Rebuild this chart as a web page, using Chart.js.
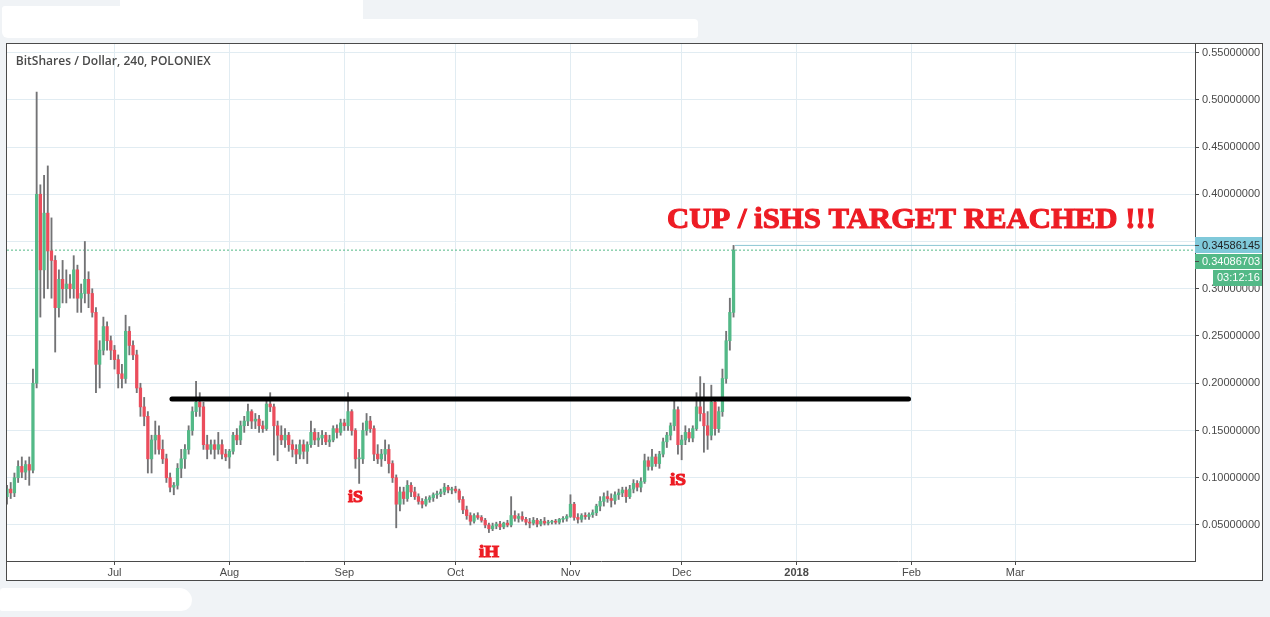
<!DOCTYPE html>
<html>
<head>
<meta charset="utf-8">
<script src="https://cdn.jsdelivr.net/npm/chart.js@4.4.0/dist/chart.umd.min.js"></script>
<style>
  html, body { margin: 0; padding: 0; }
  body { background: #f0f3f6; width: 1270px; height: 617px; overflow: hidden; position: relative; }
  .blob { position: absolute; background: #fff; }
  #frame { position: absolute; left: 6px; top: 43px; width: 1255px; height: 536px; border: 1px solid #4a4a4a; background: #fff; }
  canvas { display: block; }
</style>
</head>
<body>
<div class="blob" style="left:2px;top:6px;width:361px;height:32px;border-radius:3px 0 2px 6px"></div>
<div class="blob" style="left:120px;top:0px;width:243px;height:10px"></div>
<div class="blob" style="left:340px;top:19px;width:358px;height:19px;border-radius:6px 4px 3px 2px"></div>
<div class="blob" style="left:0px;top:588px;width:192px;height:23px;border-radius:4px 14px 12px 2px"></div>
<div id="frame"><canvas id="chart" width="1255" height="536"></canvas></div>
<script>
// days are counted from Jul 1 2017; first candle is Jun 2
const firstDay = -29;

const opens = [
  .080,.088,.084,.100,.112,.106,.114,.108,.200,.400,
  .320,.380,.340,.330,.280,.310,.300,.305,.300,.320,
  .290,.295,.310,.295,.275,.220,.235,.260,.245,.235,
  .225,.210,.205,.255,.240,.230,.195,.175,.165,.120,
  .140,.145,.130,.120,.100,.090,.092,.110,.120,.130,
  .150,.170,.180,.175,.135,.130,.135,.130,.135,.125,
  .122,.128,.145,.140,.155,.160,.170,.160,.162,.155,
  .152,.178,.175,.155,.145,.140,.145,.135,.130,.125,
  .135,.128,.135,.148,.140,.142,.145,.138,.140,.152,
  .148,.158,.155,.170,.150,.120,.120,.150,.160,.152,
  .125,.120,.125,.130,.115,.100,.072,.085,.078,.092,
  .085,.080,.075,.072,.077,.079,.082,.083,.085,.090,
  .087,.088,.086,.077,.066,.060,.054,.060,.058,.055,
  .050,.046,.049,.051,.048,.052,.050,.060,.057,.059,
  .056,.053,.052,.055,.051,.054,.052,.053,.054,.053,
  .056,.057,.059,.072,.058,.056,.060,.059,.061,.063,
  .070,.075,.080,.078,.076,.082,.084,.087,.080,.088,
  .094,.090,.096,.118,.112,.122,.115,.125,.138,.145,
  .155,.172,.135,.140,.148,.142,.152,.175,.168,.155,
  .145,.180,.152,.170,.205,.245,.275
];
const highs = [
  .092,.095,.105,.118,.122,.118,.122,.215,.508,.410,
  .420,.430,.375,.335,.320,.330,.320,.315,.335,.325,
  .305,.350,.318,.300,.280,.245,.270,.265,.250,.240,
  .230,.220,.272,.260,.245,.235,.200,.185,.170,.145,
  .160,.155,.140,.125,.105,.095,.115,.130,.135,.155,
  .175,.202,.190,.180,.145,.140,.140,.148,.140,.130,
  .130,.148,.152,.160,.165,.178,.172,.168,.166,.160,
  .185,.190,.178,.160,.155,.152,.148,.140,.135,.140,
  .140,.138,.160,.152,.148,.150,.148,.145,.155,.156,
  .162,.162,.190,.172,.152,.130,.158,.168,.165,.155,
  .135,.130,.140,.135,.118,.103,.090,.090,.097,.095,
  .090,.083,.078,.080,.081,.084,.086,.088,.094,.092,
  .090,.091,.088,.080,.070,.063,.062,.063,.060,.057,
  .052,.052,.053,.054,.053,.055,.080,.065,.062,.064,
  .058,.057,.058,.057,.056,.058,.055,.055,.056,.057,
  .059,.061,.082,.074,.062,.062,.063,.063,.066,.072,
  .080,.084,.086,.083,.085,.088,.090,.090,.092,.098,
  .097,.100,.125,.122,.130,.125,.128,.142,.148,.158,
  .183,.175,.145,.155,.152,.155,.190,.207,.200,.170,
  .198,.185,.175,.215,.255,.290,.3459
];
const lows = [
  .072,.078,.080,.095,.100,.098,.092,.105,.195,.270,
  .290,.300,.290,.233,.270,.285,.285,.290,.290,.275,
  .275,.285,.280,.270,.190,.195,.230,.235,.225,.215,
  .195,.195,.200,.230,.225,.190,.165,.155,.105,.105,
  .125,.125,.115,.095,.085,.082,.088,.100,.110,.125,
  .145,.165,.165,.130,.120,.125,.120,.125,.120,.118,
  .110,.125,.135,.135,.148,.155,.152,.152,.148,.148,
  .150,.170,.124,.118,.135,.132,.128,.122,.115,.120,
  .120,.115,.132,.135,.133,.135,.135,.133,.138,.142,
  .145,.150,.150,.145,.110,.094,.115,.145,.148,.118,
  .115,.112,.118,.105,.095,.047,.065,.072,.075,.080,
  .077,.072,.068,.070,.074,.075,.078,.080,.082,.084,
  .083,.084,.074,.062,.056,.050,.052,.056,.053,.047,
  .042,.044,.046,.045,.046,.048,.048,.054,.053,.054,
  .050,.047,.050,.048,.049,.050,.050,.051,.051,.051,
  .053,.054,.058,.055,.052,.053,.056,.056,.058,.060,
  .065,.070,.074,.069,.072,.077,.080,.074,.078,.084,
  .086,.085,.094,.108,.108,.112,.110,.122,.132,.140,
  .150,.125,.119,.135,.138,.138,.150,.160,.127,.130,
  .140,.145,.148,.165,.200,.235,.270
];
const closes = [
  .088,.084,.100,.112,.106,.114,.108,.200,.400,.320,
  .380,.340,.330,.280,.310,.300,.305,.300,.320,.290,
  .295,.310,.295,.275,.220,.235,.260,.245,.235,.225,
  .210,.205,.255,.240,.230,.195,.175,.165,.120,.140,
  .145,.130,.120,.100,.090,.092,.110,.120,.130,.150,
  .170,.180,.175,.135,.130,.135,.130,.135,.125,.122,
  .128,.145,.140,.155,.160,.170,.160,.162,.155,.152,
  .178,.175,.155,.145,.140,.145,.135,.130,.125,.135,
  .128,.135,.148,.140,.142,.145,.138,.140,.152,.148,
  .158,.155,.170,.150,.120,.120,.150,.160,.152,.125,
  .120,.125,.130,.115,.100,.072,.085,.078,.092,.085,
  .080,.075,.072,.077,.079,.082,.083,.085,.090,.087,
  .088,.086,.077,.066,.060,.054,.060,.058,.055,.050,
  .046,.049,.051,.048,.052,.050,.060,.057,.059,.056,
  .053,.052,.055,.051,.054,.052,.053,.054,.053,.056,
  .057,.059,.072,.058,.056,.060,.059,.061,.063,.070,
  .075,.080,.078,.076,.082,.084,.087,.080,.088,.094,
  .090,.096,.118,.112,.122,.115,.125,.138,.145,.155,
  .172,.135,.140,.148,.142,.152,.175,.168,.155,.145,
  .180,.152,.170,.205,.245,.275,.3409
];

const monthTicks = [0, 31, 62, 92, 123, 153, 184, 215, 243];
const monthLabels = ['Jul', 'Aug', 'Sep', 'Oct', 'Nov', 'Dec', '2018', 'Feb', 'Mar'];
const priceTicks = [0.05, 0.10, 0.15, 0.20, 0.25, 0.30, 0.35, 0.40, 0.45, 0.50, 0.55];

const necklineLevel = 0.1833;
const necklineDays = [15.5, 214.2];
const lastPrice = 0.34086703;
const highPrice = 0.34586145;
const countdown = '03:12:16';
const title = 'BitShares / Dollar, 240, POLONIEX';

const X_MIN = -29, X_MAX = 291.48;
const UP = '#53b987', DOWN = '#eb4d5c', WICK = '#737375', RED_TEXT = '#ed1c24';

const days = opens.map((_, i) => firstDay + i);
const bodyColors = closes.map((c, i) => c >= opens[i] ? UP : DOWN);

// text notes drawn on the chart, placed in data coordinates
const notes = [
  { text: 'CUP / iSHS TARGET REACHED !!!', day: 149.04, price: 0.3648, width: 489, size: 30, align: 'left' },
  { text: 'iS', day: 65.0, price: 0.0743, width: 15, size: 17, align: 'center' },
  { text: 'iS', day: 152.0, price: 0.0924, width: 16, size: 17, align: 'center' },
  { text: 'iH', day: 101.0, price: 0.0162, width: 20, size: 17, align: 'center' }
];

function fitText(ctx, text, x, y, width, align, stroke) {
  const w = ctx.measureText(text).width;
  ctx.save();
  ctx.translate(x, y);
  ctx.scale(width / w, 1);
  const ox = align === 'center' ? -w / 2 : 0;
  if (stroke) ctx.strokeText(text, ox, 0);
  ctx.fillText(text, ox, 0);
  ctx.restore();
}

const overlay = {
  id: 'overlay',
  afterDraw(chart) {
    const ctx = chart.ctx;
    const xs = chart.scales.x, ys = chart.scales.y;
    const area = chart.chartArea;

    ctx.save();
    ctx.textBaseline = 'alphabetic';

    // symbol title
    ctx.fillStyle = '#4a4a4a';
    ctx.font = '600 12px "Open Sans"';
    fitText(ctx, title, area.left + 8.7, area.top + 20.8, 195, 'left', false);

    // red notes
    ctx.fillStyle = RED_TEXT;
    ctx.strokeStyle = RED_TEXT;
    ctx.lineWidth = 1.1;
    notes.forEach(n => {
      ctx.font = 'bold ' + n.size + 'px "Liberation Serif"';
      fitText(ctx, n.text, xs.getPixelForValue(n.day), ys.getPixelForValue(n.price), n.width, n.align, true);
    });

    // price labels on the right axis
    const left = area.right, right = chart.width;
    const yHigh = Math.round(ys.getPixelForValue(highPrice));
    ctx.font = '11px "Liberation Sans"';
    ctx.textBaseline = 'middle';

    ctx.fillStyle = '#80c9da';
    ctx.fillRect(left, yHigh - 8, right - left, 16);
    ctx.fillStyle = '#1f1f1f';
    ctx.fillText(highPrice.toFixed(8), left + 7, yHigh + 0.5);

    ctx.fillStyle = UP;
    ctx.fillRect(left, yHigh + 9, right - left, 15);
    ctx.fillStyle = '#fff';
    ctx.fillText(lastPrice.toFixed(8), left + 7, yHigh + 16.5);

    ctx.fillStyle = UP;
    ctx.fillRect(right - 49, yHigh + 25, 49, 16);
    ctx.fillStyle = '#fff';
    ctx.fillText(countdown, right - 45, yHigh + 33);

    ctx.strokeStyle = '#4a4a4a';
    ctx.lineWidth = 1;
    ctx.beginPath();
    ctx.moveTo(left, yHigh + 0.5); ctx.lineTo(left + 4, yHigh + 0.5);
    ctx.moveTo(left, yHigh + 16.5); ctx.lineTo(left + 4, yHigh + 16.5);
    ctx.stroke();
    ctx.restore();
  }
};

new Chart(document.getElementById('chart'), {
  type: 'bar',
  data: {
    datasets: [
      {
        type: 'line',
        data: necklineDays.map(d => ({ x: d, y: necklineLevel })),
        borderColor: '#000',
        borderWidth: 5,
        borderCapStyle: 'round',
        pointRadius: 0,
        fill: false
      },
      {
        data: days.map((d, i) => ({ x: d, y: [opens[i], closes[i]] })),
        backgroundColor: bodyColors,
        barThickness: 2.6,
        minBarLength: 1,
        grouped: false
      },
      {
        data: days.map((d, i) => ({ x: d, y: [lows[i], highs[i]] })),
        backgroundColor: WICK,
        barThickness: 1.2,
        grouped: false
      },
      {
        type: 'line',
        data: [{ x: X_MIN, y: lastPrice }, { x: X_MAX, y: lastPrice }],
        borderColor: UP,
        borderWidth: 1,
        borderDash: [2, 2],
        pointRadius: 0,
        fill: false
      },
      {
        type: 'line',
        data: [{ x: days[days.length - 1] + 0.4, y: highPrice }, { x: X_MAX, y: highPrice }],
        borderColor: '#8cc6d4',
        borderWidth: 1,
        pointRadius: 0,
        fill: false
      }
    ]
  },
  options: {
    responsive: false,
    animation: false,
    events: [],
    layout: { padding: 0 },
    plugins: {
      legend: { display: false },
      tooltip: { enabled: false }
    },
    scales: {
      x: {
        type: 'linear',
        position: 'bottom',
        min: X_MIN,
        max: X_MAX,
        offset: false,
        afterBuildTicks: s => { s.ticks = monthTicks.map(v => ({ value: v })); },
        afterFit: s => { s.height = 19; s.paddingLeft = 0; s.paddingRight = 0; },
        grid: { color: '#e1ecf2', tickColor: '#4a4a4a', tickLength: 4, offset: false },
        border: { color: '#4a4a4a', width: 1 },
        ticks: {
          autoSkip: false,
          maxRotation: 0,
          minRotation: 0,
          padding: 1,
          color: '#4a4a4a',
          font: ctx => ({
            family: '"Liberation Sans"',
            size: 11,
            weight: ctx.tick && ctx.tick.value === 184 ? 'bold' : 'normal'
          }),
          callback: v => monthLabels[monthTicks.indexOf(v)]
        }
      },
      y: {
        type: 'linear',
        position: 'right',
        min: 0.0119,
        max: 0.559,
        beginAtZero: false,
        afterBuildTicks: s => { s.ticks = priceTicks.map(v => ({ value: v })); },
        afterFit: s => { s.width = 67; s.paddingTop = 0; s.paddingBottom = 0; },
        grid: { color: '#e1ecf2', tickColor: '#4a4a4a', tickLength: 4 },
        border: { color: '#4a4a4a', width: 1 },
        ticks: {
          padding: 3,
          color: '#4a4a4a',
          font: { family: '"Liberation Sans"', size: 11 },
          callback: v => v.toFixed(8)
        }
      }
    }
  },
  plugins: [overlay]
});
</script>
</body>
</html>
